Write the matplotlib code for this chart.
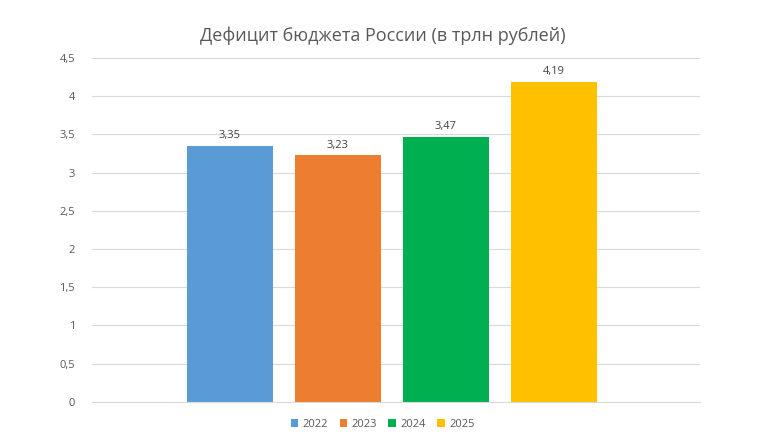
import matplotlib
matplotlib.use("Agg")
import matplotlib.pyplot as plt

years = ["2022", "2023", "2024", "2025"]
values = [3.35, 3.23, 3.47, 4.19]
colors = ["#5B9BD5", "#ED7D31", "#00B050", "#FFC000"]
yticks = [0, 0.5, 1, 1.5, 2, 2.5, 3, 3.5, 4, 4.5]

plt.rcParams['font.family'] = ['Open Sans', 'DejaVu Sans']
fig = plt.figure(figsize=(7.58, 4.47), dpi=100)
ax = fig.add_axes([0.121, 0.101, 0.802, 0.769])
handles = []
for i, (y, v, c) in enumerate(zip(years, values, colors)):
    b = ax.bar(i, v, width=0.8, color=c, label=y, zorder=2)
    handles.append(b)
    ax.text(i, v + 0.06, f"{v:.2f}".replace(".", ","), ha="center", va="bottom",
            fontsize=8, color="#404040")
ax.set_xlim(-1.28, 4.35)
ax.set_ylim(0, 4.5)
ax.set_yticks(yticks)
ax.set_yticklabels([f"{t:g}".replace(".", ",") for t in yticks], fontsize=8, color="#595959")
ax.set_xticks([])
ax.grid(axis="y", color="#D9D9D9", linewidth=0.8, zorder=0)
for s in ["top", "right", "left"]:
    ax.spines[s].set_visible(False)
ax.spines["bottom"].set_color("#D9D9D9")
ax.tick_params(axis="y", length=0, pad=12)
fig.text(0.505, 0.92, "Дефицит бюджета России (в трлн рублей)", ha="center", va="center",
         fontsize=13, color="#595959")
fig.legend(handles=handles, labels=years, loc="center", bbox_to_anchor=(0.505, 0.05), ncol=4,
           frameon=False, fontsize=8, handlelength=0.7, handleheight=0.7, columnspacing=1.0,
           handletextpad=0.4, labelcolor="#595959")
fig.savefig("out.png", dpi=100)
